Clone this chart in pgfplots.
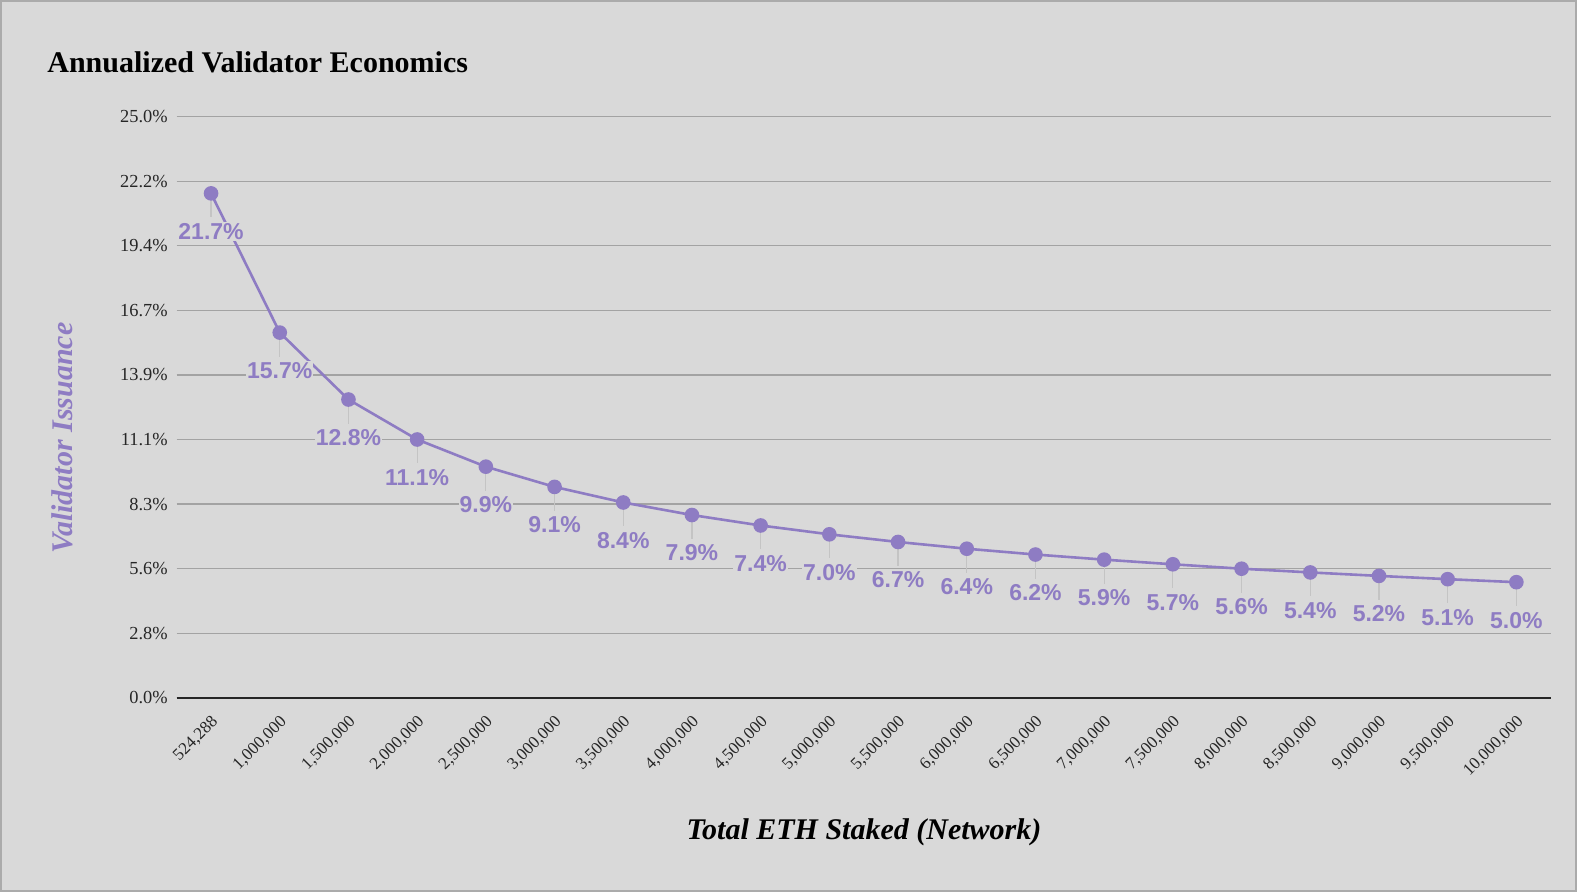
\documentclass[border=0pt]{standalone}
\usepackage{pgfplots}
\usepackage{pgfplotstable}
\pgfplotsset{compat=1.18}
\usepackage{fontspec}
\setmainfont{Liberation Serif}
\newfontfamily\labelfont{Liberation Sans}
\definecolor{bg}{HTML}{D9D9D9}
\definecolor{pur}{HTML}{8E7CC3}
\definecolor{gridc}{HTML}{A3A3A3}
\definecolor{framec}{HTML}{ABABAB}
\definecolor{leadc}{HTML}{C4C4C4}
\pgfdeclareplotmark{leader}{\pgfpathmoveto{\pgfpointorigin}\pgfpathlineto{\pgfpoint{0pt}{-12pt}}\pgfusepathqstroke}

\pgfplotstableread{
x y
0 21.70
1 15.71
2 12.83
3 11.11
4 9.94
5 9.07
6 8.40
7 7.86
8 7.41
9 7.03
10 6.70
11 6.41
12 6.16
13 5.94
14 5.74
15 5.55
16 5.39
17 5.24
18 5.10
19 4.97
}\datatable

\begin{document}
\begin{tikzpicture}
\fill[bg] (0,0) rectangle (788.5pt,446pt);
\draw[framec, line width=1pt] (0.5pt,0.5pt) rectangle (788pt,445.5pt);
\node[anchor=west, inner sep=0pt, font=\fontsize{15}{18}\selectfont\bfseries] at (23.5pt,415pt) {Annualized Validator Economics};
\begin{axis}[
  at={(88.35pt,97.15pt)}, anchor=south west,
  scale only axis, width=687pt, height=290.5pt,
  xmin=-0.5, xmax=19.5, ymin=0, ymax=25,
  clip=false,
  axis line style={draw=none},
  major tick length=0pt,
  ymajorgrids, grid style={gridc, line width=0.6pt},
  xtick={0,...,19},
  xticklabels={{524,288},{1,000,000},{1,500,000},{2,000,000},{2,500,000},{3,000,000},{3,500,000},{4,000,000},{4,500,000},{5,000,000},{5,500,000},{6,000,000},{6,500,000},{7,000,000},{7,500,000},{8,000,000},{8,500,000},{9,000,000},{9,500,000},{10,000,000}},
  ytick={0,2.77778,5.55556,8.33333,11.11111,13.88889,16.66667,19.44444,22.22222,25},
  yticklabels={0.0\%,2.8\%,5.6\%,8.3\%,11.1\%,13.9\%,16.7\%,19.4\%,22.2\%,25.0\%},
  tick label style={text=black!85},
  xticklabel style={xshift=-0.3pt, yshift=-6.8pt, rotate=45, anchor=north east, inner sep=1pt, font=\fontsize{8.5}{10}\selectfont},
  yticklabel style={xshift=-1pt, font=\fontsize{9.2}{10}\selectfont},
  xlabel={Total ETH Staked (Network)},
  ylabel={Validator Issuance},
  xlabel style={at={(axis description cs:0.5002,-0.231)}, anchor=center, font=\fontsize{15}{18}\selectfont\bfseries\itshape},
  ylabel style={at={(axis description cs:-0.0835,0.447)}, anchor=center, rotate=0, font=\fontsize{15}{18}\selectfont\bfseries\itshape, text=pur},
]
\addplot[only marks, mark=leader, mark options={draw=leadc, line width=0.6pt}] table {\datatable};
\addplot[pur, line width=1.3pt, mark=*, mark size=3pt, mark options={fill=pur, draw=pur},
  nodes near coords={\pgfmathprintnumber[fixed,fixed zerofill,precision=1,assume math mode=true]{\pgfplotspointmeta}\%},
  every node near coord/.append style={anchor=center, yshift=-19pt, font=\labelfont\fontsize{11.5}{13}\selectfont\bfseries, text=pur, fill=bg, inner sep=0.5pt}
  ] table {\datatable};
\draw[black!85, line width=1pt] (axis cs:-0.5,0) -- (axis cs:19.5,0);
\end{axis}
\pgfresetboundingbox
\path (0,0) rectangle (788.5pt,446pt);
\end{tikzpicture}
\end{document}
